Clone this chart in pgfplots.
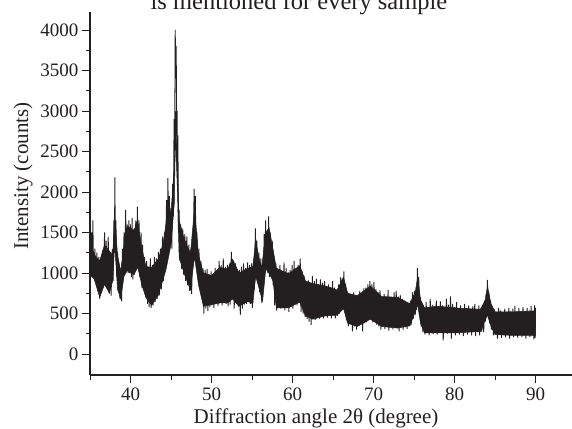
\documentclass[border=0pt]{standalone}
\usepackage{pgfplots}
\pgfplotsset{compat=1.18}
\usepackage{fontspec}
\setmainfont{Liberation Serif}
\definecolor{ink}{HTML}{231F20}
\begin{document}
\begin{tikzpicture}[x=1pt,y=1pt]
\path[use as bounding box] (0,0) rectangle (572,428);
\begin{scope}
\clip (0,0) rectangle (572,428);
\node[anchor=base,inner sep=0pt,text=ink,font=\fontsize{24.5}{24.5}\selectfont] at (299,418) {is mentioned for every sample};
\end{scope}
\begin{axis}[
  at={(90pt,53pt)},
  anchor=south west,
  scale only axis,width=482pt,height=363pt,
  xmin=35,xmax=94.5,ymin=-259,ymax=4222,
  axis x line=bottom,axis y line=left,
  axis line style={-,ink,line width=1.2pt},
  xtick={40,50,60,70,80,90},
  minor xtick={35,45,55,65,75,85},
  ytick={0,500,1000,1500,2000,2500,3000,3500,4000},
  minor ytick={250,750,1250,1750,2250,2750,3250,3750},
  tick align=outside,
  tick style={ink,line width=0.9pt},
  major tick length=8pt,minor tick length=4.5pt,
  /pgf/number format/assume math mode=true,
  /pgf/number format/1000 sep={},
  tick label style={font=\fontsize{19}{19}\selectfont,text=ink},
  xticklabel style={yshift=-1pt},
  label style={font=\fontsize{21}{21}\selectfont,text=ink},
  xlabel={Diffraction angle 2θ (degree)},
  ylabel={Intensity (counts)},
  xlabel style={at={(axis description cs:0.469,-0.1335)},anchor=base},
  ylabel style={at={(axis description cs:-0.139,0.548)},anchor=center},
  clip=false,
]
% solid core of the noise band
\addplot[fill=ink,draw=ink,line width=0.5pt] coordinates {
(35,1420)(35.5,1230)(36.2,1150)(36.8,1350)(37.4,1270)(37.8,1220)(38.05,1700)(38.4,1220)(38.8,1020)(39.2,1350)(39.6,1580)(40.4,1530)(40.9,1620)(41.4,1300)(41.9,1080)(42.6,1070)(43.4,1170)(44,1350)(44.4,1620)(45,1750)(45.4,2300)(45.55,3000)(45.8,2300)(46,1650)(46.6,1430)(47.4,1240)(47.9,1800)(48.4,1220)(49,1000)(50,970)(51,1070)(52,1050)(52.6,1170)(53.4,1000)(54.5,1060)(55.1,1080)(55.45,1400)(55.9,1170)(56.2,1070)(56.7,1500)(57.1,1560)(57.6,1290)(58,1060)(59.5,990)(60.9,1090)(61.6,900)(62.5,870)(64,840)(65.5,790)(66.3,950)(66.8,750)(68,720)(69.6,840)(71,710)(73,700)(74.5,620)(75.2,780)(75.45,960)(75.8,670)(76.3,570)(78,590)(80,570)(83.2,550)(83.8,670)(84.06,840)(84.5,620)(85,520)(87,520)(90,530)
(90,230)
(87,230)(85,240)(84.5,340)(84.06,480)(83.7,400)(83.3,280)(80,260)(78,260)(76.3,260)(75.8,380)(75.45,610)(75.1,510)(74.5,350)(73,320)(71,340)(69.6,430)(68,340)(66.8,380)(66.3,560)(65.5,480)(64,470)(62.5,430)(61.6,470)(60.9,640)(59.5,570)(58,570)(57.6,900)(57.1,1000)(56.7,1050)(56.3,650)(55.9,800)(55.45,960)(55.1,620)(54.5,650)(53.4,590)(52.6,680)(52,630)(51,630)(50,610)(49,590)(48.4,850)(47.9,1200)(47.4,790)(46.6,1000)(46,1200)(45.8,2000)(45.55,2700)(45.4,1850)(45,1350)(44.4,1050)(44,910)(43.4,720)(42.6,600)(41.9,700)(41.4,850)(40.9,1070)(40.4,980)(39.6,1030)(39.2,960)(38.8,680)(38.4,800)(38.05,1350)(37.8,900)(37.4,750)(36.8,860)(36.2,700)(35.5,930)(35,970)
} --cycle;
\addplot[color=ink,line width=0.9pt,line join=miter,miter limit=2] coordinates {
(35.0,1150)(35.1,950)(35.2,1500)(35.3,1000)(35.35,1650)(35.45,950)(35.6,1300)(35.7,880)
(35.85,1250)(35.95,780)(36.1,1200)(36.2,680)(36.3,1050)(36.4,830)(36.55,1280)(36.65,900)(36.8,1500)(36.9,860)
(37,1400)(37.1,820)(37.25,1450)(37.35,750)(37.5,1250)(37.6,720)(37.75,1300)(37.85,900)(37.95,1650)(38.02,1300)
(38.07,2180)(38.13,1250)(38.2,1650)(38.3,950)(38.4,1250)(38.5,780)(38.6,1100)(38.7,680)(38.8,1050)(38.9,650)
(39,1300)(39.1,950)(39.2,1500)(39.3,1000)(39.4,1780)(39.5,1050)(39.6,1600)(39.7,1000)(39.8,1650)(39.9,1000)
(40,1600)(40.1,950)(40.2,1680)(40.3,920)(40.4,1500)(40.5,980)(40.65,1650)(40.75,1050)(40.85,1820)(40.95,1050)
(41.05,1650)(41.15,950)(41.3,1500)(41.4,820)(41.5,1350)(41.6,800)(41.75,1200)(41.85,700)(42,1150)(42.1,620)
(42.2,1050)(42.3,580)(42.45,1180)(42.55,570)(42.7,1100)(42.8,600)(42.95,1200)(43.05,640)(43.2,1180)(43.3,680)
(43.45,1260)(43.55,720)(43.7,1300)(43.8,800)(43.95,1450)(44.05,900)(44.2,1500)(44.3,1050)(44.45,1900)(44.55,1250)
(44.62,2170)(44.7,1300)(44.8,1950)(44.9,1350)(45,1800)(45.1,1300)(45.2,2100)(45.3,1700)(45.38,2900)(45.45,2500)
(45.52,4000)(45.58,3400)(45.64,3800)(45.7,2700)(45.75,3000)(45.8,2200)(45.85,2700)(45.92,1500)(46,1780)(46.08,1150)
(46.2,1600)(46.3,1050)(46.45,1550)(46.55,980)(46.7,1480)(46.8,900)(46.95,1450)(47.05,850)(47.2,1350)(47.3,780)
(47.45,1300)(47.55,740)(47.68,1500)(47.75,1200)(47.85,2040)(47.92,1400)(48,1950)(48.1,1150)(48.2,1500)(48.3,950)
(48.45,1300)(48.55,820)(48.7,1150)(48.8,720)(48.95,1060)(49.05,500)(49.2,1040)(49.3,560)(49.45,1050)(49.55,530)
(49.7,980)(49.8,580)(49.95,1020)(50.05,600)(50.2,980)(50.3,570)(50.45,1060)(50.55,620)(50.7,1000)(50.8,590)
(50.95,1150)(51.05,640)(51.2,1100)(51.3,600)(51.45,1180)(51.55,650)(51.7,1080)(51.8,620)(51.95,1100)(52.05,590)
(52.2,1120)(52.3,610)(52.45,1260)(52.55,680)(52.7,1100)(52.8,560)(52.95,1120)(53.05,620)(53.2,1020)(53.3,580)
(53.45,1040)(53.55,480)(53.7,1080)(53.8,560)(53.95,1120)(54.05,610)(54.2,1060)(54.3,620)(54.45,1130)(54.55,640)
(54.7,1100)(54.8,620)(54.95,1120)(55.05,570)(55.2,1150)(55.3,800)(55.42,1550)(55.5,950)(55.6,1400)(55.7,900)
(55.85,1250)(55.95,760)(56.1,1180)(56.2,630)(56.3,1120)(56.4,900)(56.5,1480)(56.58,1000)(56.68,1650)(56.75,1050)
(56.85,1500)(56.95,1000)(57.05,1700)(57.15,950)(57.25,1500)(57.35,1000)(57.5,1400)(57.6,850)(57.7,1150)(57.8,600)
(57.95,1120)(58.05,530)(58.2,1040)(58.3,600)(58.45,1100)(58.55,560)(58.7,1010)(58.8,590)(58.95,1130)(59.05,540)
(59.2,1060)(59.3,590)(59.45,1010)(59.55,520)(59.7,1040)(59.8,580)(59.95,1100)(60.05,560)(60.2,1150)(60.3,640)
(60.45,1060)(60.55,600)(60.7,1100)(60.8,640)(60.95,1180)(61.05,520)(61.2,1020)(61.3,500)(61.45,960)(61.55,460)
(61.7,880)(61.8,430)(61.95,910)(62.05,400)(62.2,850)(62.3,360)(62.45,960)(62.55,450)(62.7,900)(62.8,420)
(62.95,930)(63.05,470)(63.2,860)(63.3,430)(63.45,920)(63.55,480)(63.7,880)(63.8,440)(63.95,900)(64.05,500)
(64.2,840)(64.3,450)(64.45,860)(64.55,480)(64.7,830)(64.8,440)(64.95,900)(65.05,500)(65.2,820)(65.3,440)
(65.45,790)(65.55,470)(65.7,860)(65.8,500)(65.95,950)(66.05,540)(66.15,930)(66.25,550)(66.33,1020)(66.42,530)
(66.55,860)(66.65,420)(66.8,770)(66.9,340)(67.05,740)(67.15,370)(67.3,700)(67.4,280)(67.55,760)(67.65,340)
(67.8,690)(67.9,300)(68.05,730)(68.15,350)(68.3,780)(68.4,390)(68.55,750)(68.65,280)(68.8,810)(68.9,380)
(69.05,820)(69.15,390)(69.3,860)(69.4,430)(69.55,900)(69.65,430)(69.8,860)(69.9,390)(70.05,890)(70.15,410)
(70.3,800)(70.4,360)(70.55,770)(70.65,340)(70.8,790)(70.9,300)(71.05,700)(71.15,340)(71.3,740)(71.4,310)
(71.55,650)(71.65,350)(71.8,790)(71.9,290)(72.05,680)(72.15,350)(72.3,700)(72.4,300)(72.55,760)(72.65,340)
(72.8,780)(72.9,320)(73.05,710)(73.15,280)(73.3,730)(73.4,340)(73.55,680)(73.65,300)(73.8,650)(73.9,330)
(74.05,640)(74.15,310)(74.3,620)(74.4,340)(74.55,660)(74.65,360)(74.8,760)(74.9,430)(75.05,780)(75.15,480)
(75.25,830)(75.33,540)(75.42,1060)(75.5,600)(75.58,950)(75.66,480)(75.78,700)(75.88,340)(76,610)(76.1,270)
(76.25,560)(76.35,240)(76.5,640)(76.6,280)(76.75,580)(76.85,230)(77,680)(77.1,270)(77.25,610)(77.35,250)
(77.5,590)(77.6,290)(77.75,660)(77.85,240)(78,580)(78.1,280)(78.25,650)(78.35,260)(78.5,600)(78.6,170)
(78.75,560)(78.85,270)(79,680)(79.1,250)(79.25,610)(79.35,280)(79.5,710)(79.6,190)(79.75,620)(79.85,270)
(80,580)(80.1,230)(80.25,640)(80.35,280)(80.5,560)(80.6,240)(80.75,600)(80.85,280)(81,550)(81.1,220)
(81.25,620)(81.35,270)(81.5,570)(81.6,240)(81.75,600)(81.85,280)(82,560)(82.1,230)(82.25,590)(82.35,270)
(82.5,620)(82.6,220)(82.75,560)(82.85,270)(83,600)(83.1,230)(83.25,570)(83.35,280)(83.5,540)(83.6,270)
(83.7,660)(83.8,400)(83.9,740)(83.98,470)(84.06,915)(84.14,470)(84.24,760)(84.33,380)(84.45,660)(84.55,300)
(84.7,560)(84.8,230)(84.95,550)(85.05,270)(85.2,520)(85.3,190)(85.45,570)(85.55,240)(85.7,540)(85.8,200)
(85.95,510)(86.05,250)(86.2,560)(86.3,210)(86.45,520)(86.55,240)(86.7,570)(86.8,190)(86.95,530)(87.05,240)
(87.2,560)(87.3,210)(87.45,590)(87.55,230)(87.7,520)(87.8,200)(87.95,570)(88.05,240)(88.2,530)(88.3,210)
(88.45,580)(88.55,230)(88.7,530)(88.8,190)(88.95,570)(89.05,240)(89.2,540)(89.3,210)(89.45,590)(89.55,230)
(89.7,540)(89.8,180)(89.88,600)(89.95,200)(90,570)
};
\end{axis}
\end{tikzpicture}
\end{document}
